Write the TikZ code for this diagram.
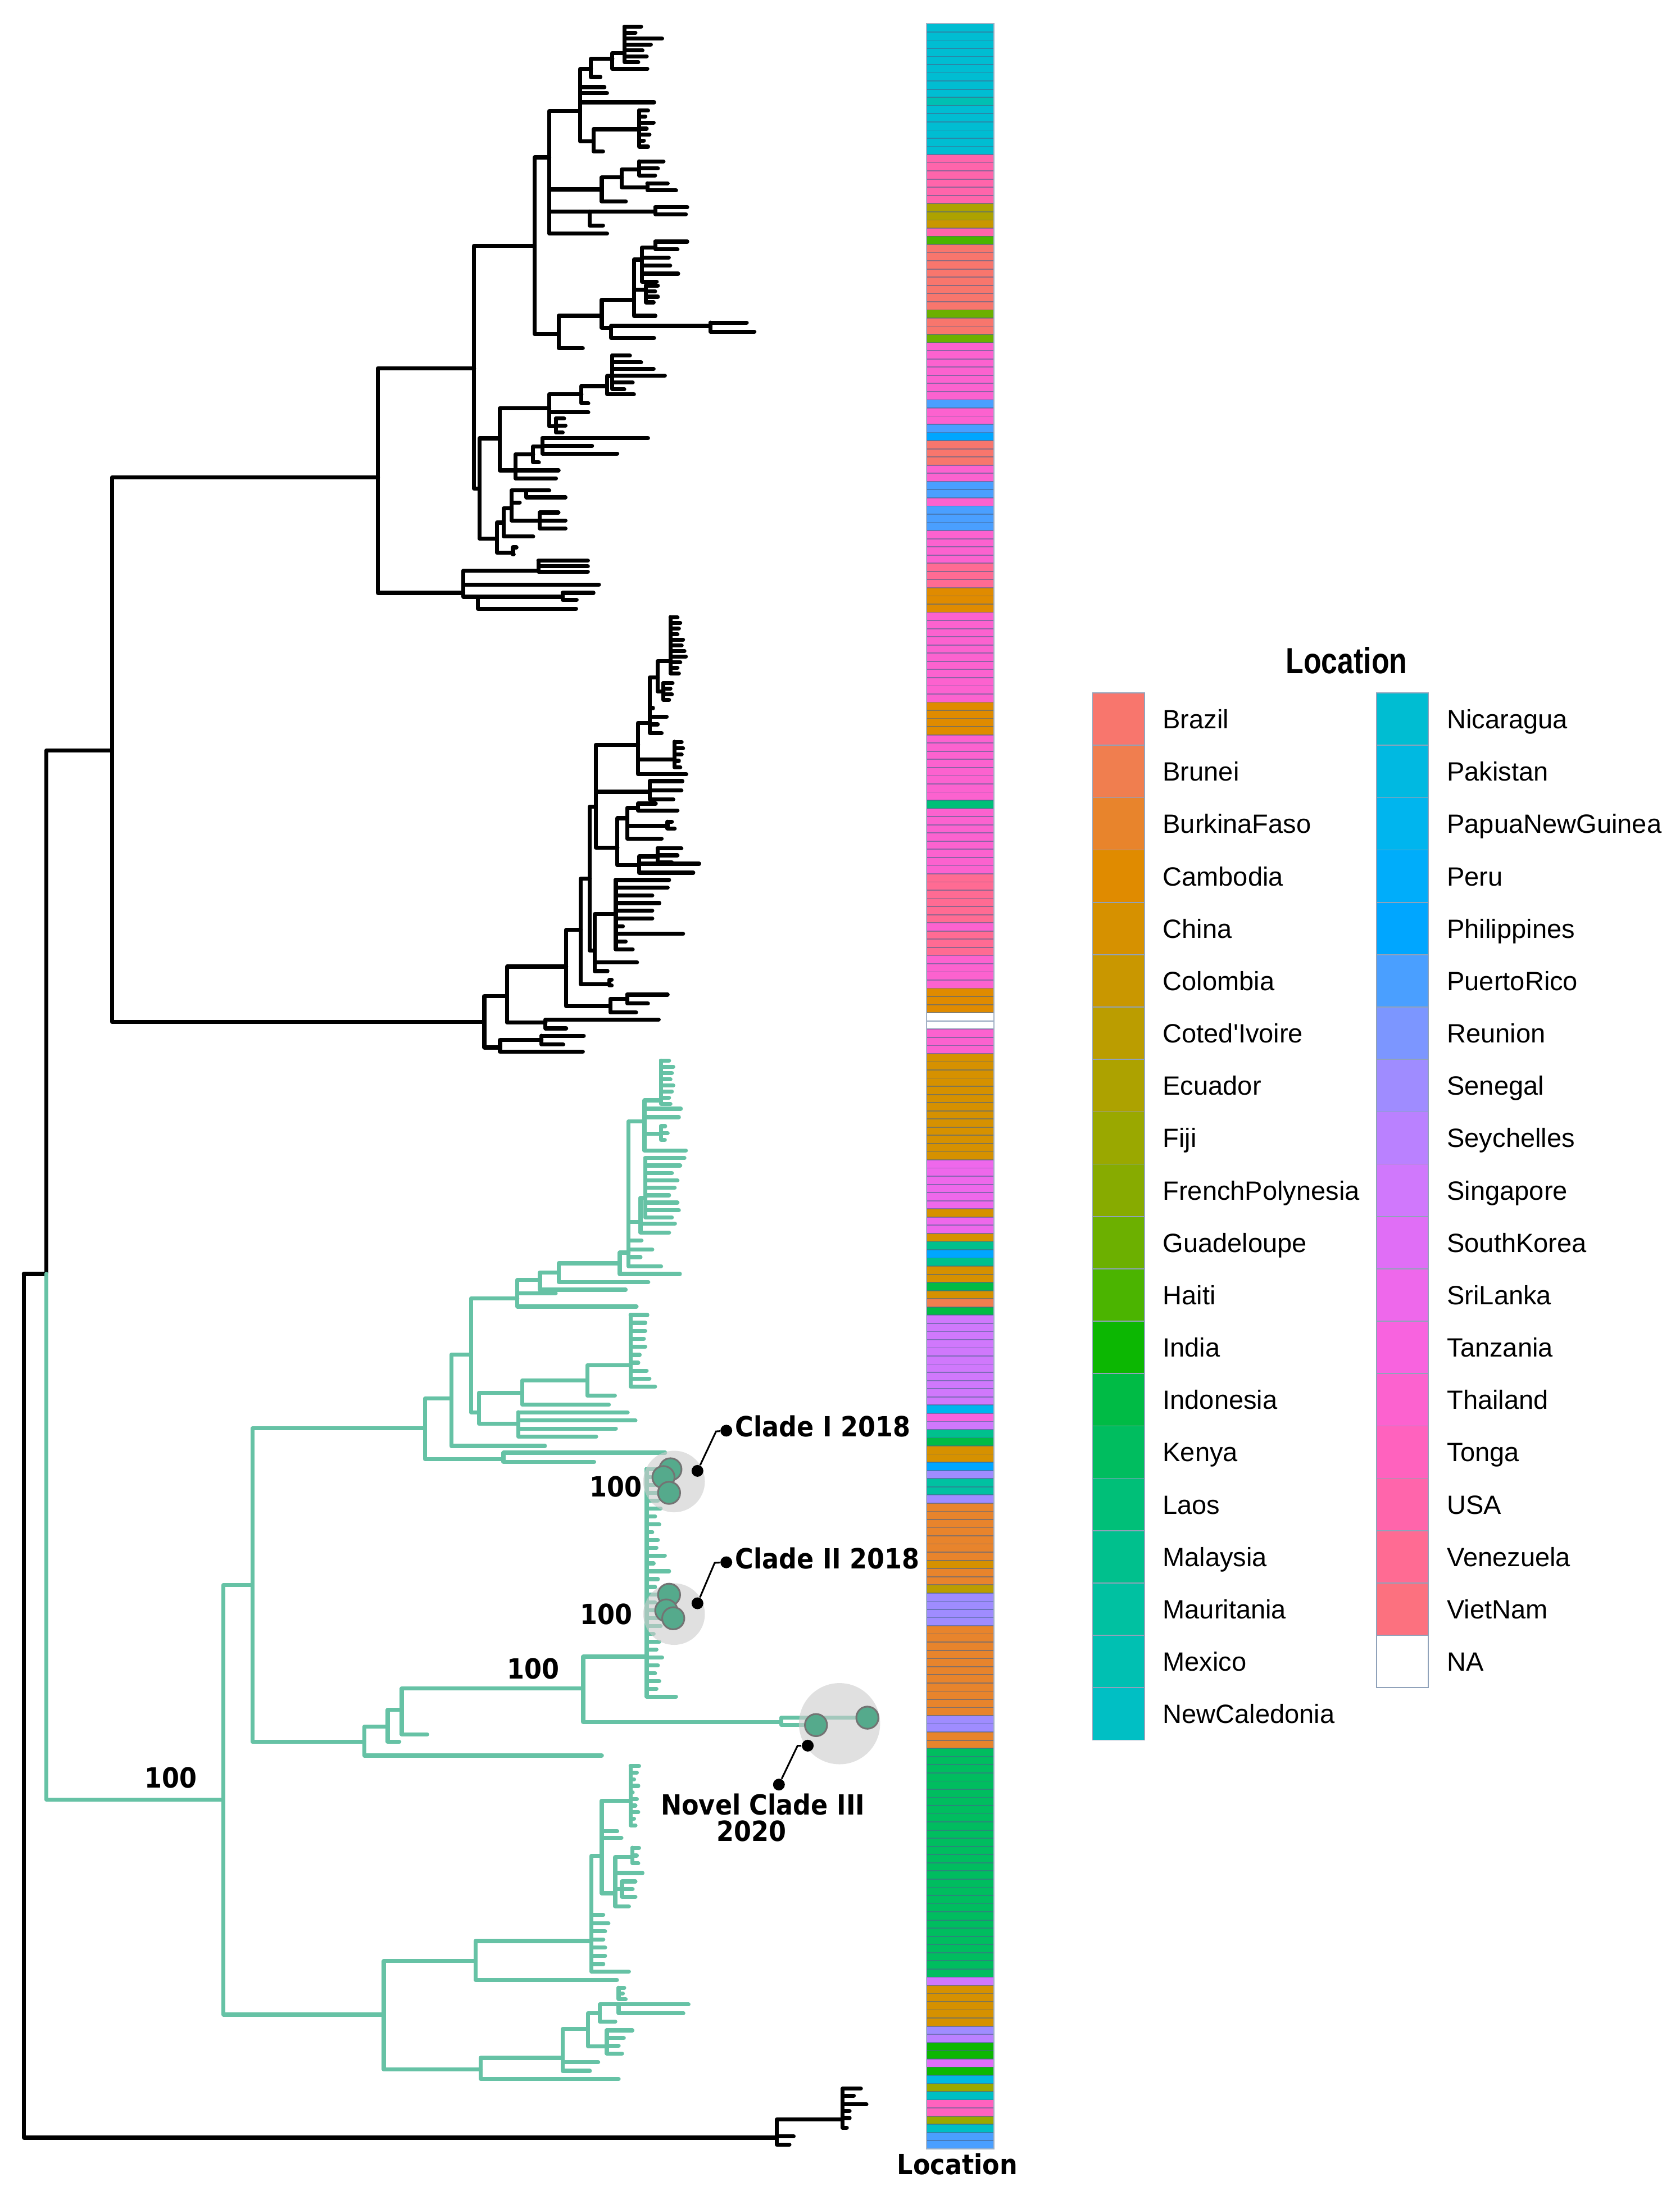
\documentclass[tikz,border=0pt]{standalone}
\usepackage{fontspec}
\usepackage{graphicx}
\newfontfamily\legfont{Liberation Sans}
\newfontfamily\labfont{DejaVu Sans}

\definecolor{cladegreen}{HTML}{66C2A5}
\definecolor{tipgreen}{HTML}{55AA8C}
\definecolor{rowline}{HTML}{46648C}
\definecolor{kbra}{HTML}{F8766D}
\definecolor{kbru}{HTML}{F07E4F}
\definecolor{kbfa}{HTML}{E8842C}
\definecolor{kcam}{HTML}{E08B00}
\definecolor{kchi}{HTML}{D69100}
\definecolor{kcol}{HTML}{C99700}
\definecolor{kciv}{HTML}{BB9D00}
\definecolor{kecu}{HTML}{ADA200}
\definecolor{kfij}{HTML}{9AA800}
\definecolor{kfrp}{HTML}{87AB00}
\definecolor{kgua}{HTML}{6CB000}
\definecolor{khai}{HTML}{4BB400}
\definecolor{kind}{HTML}{0CB702}
\definecolor{kidn}{HTML}{00BB45}
\definecolor{kken}{HTML}{00BD5F}
\definecolor{klao}{HTML}{00BF78}
\definecolor{kmal}{HTML}{00C08D}
\definecolor{kmau}{HTML}{00C1A1}
\definecolor{kmex}{HTML}{00C0B2}
\definecolor{knca}{HTML}{00BFC4}
\definecolor{knic}{HTML}{00BDD2}
\definecolor{kpak}{HTML}{00B9E1}
\definecolor{kpng}{HTML}{00B5EE}
\definecolor{kper}{HTML}{00ADFA}
\definecolor{kphi}{HTML}{00A6FF}
\definecolor{kpr}{HTML}{4A9FFF}
\definecolor{kreu}{HTML}{7C96FF}
\definecolor{ksen}{HTML}{9F8CFF}
\definecolor{ksey}{HTML}{BA81FF}
\definecolor{ksin}{HTML}{D078FC}
\definecolor{ksko}{HTML}{E06EF6}
\definecolor{ksri}{HTML}{EE68EB}
\definecolor{ktan}{HTML}{F863DF}
\definecolor{ktha}{HTML}{FC62CF}
\definecolor{kton}{HTML}{FF62BE}
\definecolor{kusa}{HTML}{FF65AB}
\definecolor{kven}{HTML}{FF6B93}
\definecolor{kvnm}{HTML}{FC717F}
\definecolor{kna}{HTML}{FFFFFF}

\tikzset{
  branch/.style={line width=1.65pt, line cap=round, line join=round},
  halo/.style={fill=black!20, fill opacity=0.6},
  tip/.style={circle, fill=tipgreen, draw=black!55, line width=0.7pt, minimum size=9pt, inner sep=0pt},
  ptr/.style={circle, fill=black, inner sep=0pt, minimum size=4.8pt},
  clab/.style={font=\labfont\bfseries\fontsize{11.3}{12}\selectfont, inner sep=0pt},
  legtext/.style={anchor=base west, inner sep=0pt, font=\legfont\fontsize{10.75}{12}\selectfont},
  legbox/.style={draw=rowline!60, line width=0.4pt},
}

% parent (x,y) to every child x/y
\newcommand\kids[3]{\foreach \cx/\cy in {#3} {\draw (#1,#2) |- (\cx,\cy);}}
% evenly spaced tips: x, first y, step, list of tip ends
\newcommand\comb[4]{\foreach \e [count=\i from 0] in {#4} {\draw (#1,#2) |- (\e,{#2+\i*#3});}}

\begin{document}
\begin{tikzpicture}[x=0.02cm, y=-0.02cm]
\useasboundingbox (0,0) rectangle (1200,1568);

% black part of the tree
\begin{scope}[branch, black]
  \draw (17,910) -- (33,910);
  \draw (17,910) |- (555,1527);
  \kids{555}{1527}{567/1526, 564/1532, 602/1514}
  \kids{602}{1514}{615/1492, 610/1497, 619/1503, 607/1508, 607/1513, 605/1520}

  \draw (33,910) |- (80,536);
  \kids{80}{536}{270/341, 346/730}
  \kids{270}{341}{338.7/263, 331/423.5}
  \kids{338.7}{263}{382/175.5, 342.5/349}
  \kids{382}{175.5}{392.4/112.4, 399.1/238.5}
  \kids{392.4}{112.4}{414.5/79.4, 429.9/135.3, 421.2/151.1, 433.7/166.9}
  \kids{414.5}{79.4}{422.2/49.3, 431.8/62.2, 433.7/66.5, 467.3/73.1, 424.1/100.9}
  \kids{422.2}{49.3}{437.5/42.1, 428.9/55}
  \kids{437.5}{42.1}{446.2/37.8, 462.5/49.3}
  \comb{446.2}{19.2}{4.2}{458,454,473,465,459,462,456}
  \kids{424.1}{100.9}{456.7/92.3, 430.8/108.1}
  \comb{456.7}{79}{4.3}{463,461,467,462,464,460,463}
  \kids{429.9}{135.3}{444.3/126.7, 447.1/143.9}
  \kids{444.3}{126.7}{456.7/121, 462.5/133.9}
  \comb{456.7}{115.3}{5}{474,470,468}
  \comb{462.5}{131}{5}{477,483}
  \kids{421.2}{151.1}{468.2/151.1, 430.8/161.1}
  \comb{468.2}{148}{5}{491,490}
  \kids{399.1}{238.5}{429.9/225.6, 416.4/248.6}
  \kids{429.9}{225.6}{452.9/214.2, 436.6/234.2}
  \kids{436.6}{234.2}{507.6/232.8, 467.3/241.4}
  \comb{507.6}{230.5}{6.5}{533.5,539}
  \kids{452.9}{214.2}{458.6/185.5, 461.5/207, 468.2/225.6}
  \kids{458.6}{185.5}{468.2/176.9, 477.8/184.1, 478.8/189.8, 484.5/195.5, 469.2/201.3}
  \comb{468.2}{172.6}{5.4}{491,484}
  \comb{461.5}{204}{4}{470,468,470,467}
  \kids{342.5}{349}{357/313.1, 355/384.8}
  \kids{357}{313.1}{392.4/291.6, 368.4/336}
  \kids{392.4}{291.6}{415.4/281.5, 420.3/294.4, 397.2/304.5}
  \comb{397.2}{299}{5}{403,404,402}
  \kids{415.4}{281.5}{433.7/275.8, 420.3/288}
  \kids{433.7}{275.8}{437.5/268.6, 452.9/281.5}
  \comb{437.5}{254}{4.8}{450,458,467,475,452,446}
  \kids{368.4}{336}{380.9/324.5, 399.1/336, 397.2/341.7}
  \kids{380.9}{324.5}{387.6/318.8, 385/330.3}
  \comb{387.6}{313}{5.5}{463,423,441}
  \kids{355}{384.8}{359.8/373.3, 366.5/394.8}
  \comb{366.5}{391}{5}{369,367}
  \kids{359.8}{373.3}{365.5/363.2, 380.9/383.3}
  \kids{365.5}{363.2}{376/350.3, 371.3/359, 385.7/371.8}
  \comb{376}{350.3}{5}{392.4,404}
  \comb{385.7}{366.1}{5.7}{399,404,404}
  \kids{331}{423.5}{384.7/407.7, 427.9/417.7, 341.5/426.3}
  \comb{384.7}{400.5}{4}{420,420,420}
  \kids{341.5}{426.3}{402/426.3, 411.6/434.9}
  \comb{402}{423.5}{5}{424,412}

  \kids{346}{730}{362.2/711.5, 357.3/748.3}
  \kids{362.2}{711.5}{404.5/690.5, 389.7/730.4}
  \kids{389.7}{730.4}{470.6/728.3, 404.5/734.6}
  \kids{357.3}{748.3}{386.9/743, 416.4/751.4}
  \comb{386.9}{739.9}{6.3}{417.1,402.4}
  \kids{404.5}{690.5}{415/664.3, 436.1/718.9}
  \kids{436.1}{718.9}{448.1/713.6, 454.4/723.1}
  \comb{448.1}{710.5}{6.3}{477,462.9}
  \kids{415}{664.3}{421.4/627.6, 435.4/703.1}
  \comb{435.4}{700}{4}{437,437}
  \kids{421.4}{627.6}{425.6/576.1, 424.9/679}
  \kids{424.9}{679}{440/653, 455.1/687.4, 434/693.7}
  \comb{440}{628.6}{5.5}{478,477,466,471,466,466,445,488,447,452}
  \kids{425.6}{576.1}{455.9/532, 464.3/565.6, 441.1/605.5}
  \comb{464.3}{558}{6.5}{487.5,486.8,481}
  \kids{441.1}{605.5}{448.1/584.5, 456.5/618.1}
  \kids{448.1}{584.5}{455.9/577.2, 476.9/589.8, 472.7/599.2}
  \comb{455.9}{574}{5}{468.5,484}
  \comb{476.9}{587}{5}{480,482}
  \kids{456.5}{618.1}{469.9/611.8, 499.5/617, 495.3/623.4}
  \comb{469.9}{606}{5}{486.8,484,480}
  \kids{455.9}{532}{464.3/516.3, 481.9/542.6, 490.3/553.1}
  \comb{481.9}{530}{4.5}{487,488,487,485,486}
  \kids{464.3}{516.3}{469.9/483.8, 466.5/505.8, 476.3/512.1, 469.9/517.4, 472.7/523.7}
  \kids{469.9}{483.8}{479.1/472.2, 474/494}
  \comb{479.1}{441}{4}{484,486,485,484,488,487,489,490,486,484,485}
  \comb{474}{488}{4}{480.5,479,480,478}
\end{scope}

% green clade
\begin{scope}[branch, cladegreen]
  \draw (33,910) |- (159.5,1285.6);
  \kids{159.5}{1285.6}{180.4/1132.3, 274.2/1439.1}
  \kids{180.4}{1132.3}{303.6/1020.3, 260.3/1244.3}
  \kids{303.6}{1020.3}{322.4/999.1, 359.7/1042.4}
  \comb{359.7}{1037.7}{6.7}{475.2,424.5}
  \kids{322.4}{999.1}{336.5/967.6, 389.3/1032.9}
  \kids{336.5}{967.6}{369.6/927.4, 342.1/1008.9}
  \kids{342.1}{1008.9}{373.1/994.8, 370.3/1017}
  \comb{370.3}{1008.9}{5.8}{448.4,454,440,425.9}
  \kids{373.1}{994.8}{419.6/986.1, 435/1003.5}
  \kids{419.6}{986.1}{450.5/975.2, 439.3/997}
  \comb{450.5}{939.3}{5.7}{462.5,461,461,460,461,457,456,462,464,468}
  \kids{369.6}{927.4}{385.8/914.3, 397/923.8, 454.8/933.3}
  \kids{385.8}{914.3}{399.1/908.9, 447/921.3}
  \kids{399.1}{908.9}{442.8/902.4, 463.2/915.8}
  \kids{442.8}{902.4}{449.1/894.8, 485.7/910}
  \kids{449.1}{894.8}{460.4/801.2, 457.6/873, 458.3/886, 466/892.6, 457.6/898, 472.3/904.5}
  \kids{460.4}{801.2}{472.3/786, 472.3/809.9, 486.4/792, 485/798, 490/821.9}
  \comb{472.3}{757.7}{4.4}{478,481,480,479,481,480,478,479}
  \comb{472.3}{804.5}{4.9}{475.2,477,475}
  \kids{457.6}{873}{461.1/855.6, 482.2/874.1, 478/880.6}
  \comb{461.1}{827.3}{5.3}{489,486,480,484,482,478,484,485,480}

  \kids{260.3}{1244.3}{277/1233.4, 430/1254.1}
  \kids{277}{1233.4}{287/1221.5, 285.3/1244.3}
  \kids{287}{1221.5}{416.7/1206.2, 305.2/1238.9}
  \kids{416.7}{1206.2}{462/1183.4, 558.2/1230.2}
  \comb{462}{1049.6}{5.6}{479,474,468,478,470,472,468,471,466,470,469,475,467,478,470,468,478,468,476,481,472,467,471,469,473,470,468,471,469,483}
  \kids{558.2}{1230.2}{619.7/1227, 583/1232.3}

  \kids{274.2}{1439.1}{339.9/1400.9, 343.5/1478.3}
  \kids{339.9}{1400.9}{422.6/1386.5, 440.8/1414.3}
  \kids{422.6}{1386.5}{429.9/1325.6, 449.3/1408.5}
  \comb{422.6}{1367.9}{5.85}{431,434.7,432.3,431,432.3,432.3,431}
  \kids{429.9}{1325.6}{431.3/1286.4, 441/1308, 444/1313, 439.6/1352.4}
  \draw (431.3,1286.4) -- (450.5,1286.4);
  \comb{450.5}{1261.6}{4.7}{456.6,455,453,456,452,455,454,456,453,454}
  \kids{439.6}{1352.4}{451.8/1326.6, 459/1338, 444.4/1349.3, 449.3/1361.7}
  \comb{451.8}{1320}{5.5}{456.6,455,456}
  \comb{444.4}{1344}{5.5}{454,452,454}
  \kids{343.5}{1478.3}{401.9/1470, 442/1485.1}
  \kids{401.9}{1470}{420.1/1449.4, 427.4/1473.1, 421.4/1479.3}
  \kids{420.1}{1449.4}{428.6/1438, 433.5/1461.7}
  \kids{428.6}{1438}{442/1431.8, 439.6/1444.2}
  \kids{442}{1431.8}{491.9/1431.8, 488.2/1438}
  \comb{442}{1420}{4}{446,445,447}
  \comb{433.5}{1450.4}{5.5}{451.8,445.7,442,444.4}
\end{scope}

% highlighted clades
\fill[halo] (481.6,1058.3) circle (22);
\fill[halo] (481.6,1153) circle (22);
\fill[halo] (599.8,1231.3) circle (29);
\node[tip] (i1) at (479,1049.6) {};
\node[tip] (i2) at (474,1055.2) {};
\node[tip] (i3) at (478,1066.4) {};
\node[tip] (ii1) at (478,1139.2) {};
\node[tip] (ii2) at (476,1150.4) {};
\node[tip] (ii3) at (481,1156) {};
\node[tip] (iii1) at (583,1232.3) {};
\node[tip] (iii2) at (619.7,1227) {};

% pointers and labels
\node[ptr] (pI) at (498.3,1050.7) {};
\node[ptr] (qI) at (518.9,1022) {};
\coordinate (kI) at (511.6,1022.5);
\draw[line width=0.7pt] (pI) -- (kI) -- (qI);
\node[ptr] (pII) at (498.3,1145.3) {};
\node[ptr] (qII) at (518.9,1116) {};
\coordinate (kII) at (510.6,1116.4);
\draw[line width=0.7pt] (pII) -- (kII) -- (qII);
\node[ptr] (pIII) at (577.1,1247) {};
\node[ptr] (qIII) at (556.5,1274.8) {};
\coordinate (kIII) at (569.8,1247.1);
\draw[line width=0.7pt] (pIII) -- (kIII) -- (qIII);

\node[clab, anchor=west] (cI) at (525,1019) {\scalebox{0.9}[1]{Clade I 2018}};
\node[clab, anchor=west] (cII) at (525,1113) {\scalebox{0.9}[1]{Clade II 2018}};
\node[clab] (cIII) at (545,1289) {\scalebox{0.9}[1]{Novel Clade III}};
\node[clab] (cIIIy) at (537,1308) {\scalebox{0.9}[1]{2020}};
\node[clab] (bI) at (440,1062) {\scalebox{0.9}[1]{100}};
\node[clab] (bII) at (433,1153) {\scalebox{0.9}[1]{100}};
\node[clab] (bM) at (381,1192) {\scalebox{0.9}[1]{100}};
\node[clab] (bG) at (122,1270) {\scalebox{0.9}[1]{100}};

% location bar
\foreach \c/\n [remember=\e as \s (initially 0), evaluate=\n as \e using \s+\n] in {knic/9, kmex/1, knic/6, kusa/6, kecu/2, kcol/1, kusa/1, khai/1, kbra/8, kgua/1, kbra/2, kgua/1, ktha/7, kpr/1, ktha/2, kpr/1, kphi/1, kbra/3, ktha/2, kpr/2, ktha/1, kpr/3, ktha/4, kven/3, kcam/3, ktha/11, kcam/4, ktha/8, klao/1, ktha/8, kven/6, ktha/1, kven/3, ktha/4, kcam/3, kna/2, ktha/3, kchi/13, ksri/6, kchi/1, ksri/2, kchi/1, kmal/1, kphi/1, kmal/1, kchi/2, kidn/1, kchi/1, kbru/1, kidn/1, ksin/11, kpng/1, ktan/1, ksin/1, kmal/1, kidn/1, kchi/2, kphi/1, ksen/1, kmau/2, ksen/1, kbfa/7, kchi/1, kbfa/2, kciv/1, ksen/4, kbfa/11, ksen/2, kbfa/2, kken/28, ksin/1, kchi/5, ksen/1, ksey/1, kind/2, ksko/1, kind/1, kpak/1, kfij/1, knca/1, kton/2, kfij/1, knca/1, kpr/2}
  \fill[fill=\c] (662,{17+\s*5.8385}) rectangle (710,{17+\e*5.8385});
\foreach \r in {1,...,259}
  \draw[rowline, opacity=0.6, line width=0.4pt] (662,{17+\r*5.8385}) -- (710,{17+\r*5.8385});
\draw[draw=rowline!50, line width=0.5pt] (662,17) rectangle (710,1535);
\node[clab] (barname) at (684,1546) {\scalebox{0.9}[1]{Location}};

% legend
\node[font=\legfont\bfseries\fontsize{14.8}{16}\selectfont, inner sep=0pt] (ttl) at (962,472) {\scalebox{0.8}[1]{Location}};
\foreach \c/\t [count=\i from 0] in {kbra/Brazil, kbru/Brunei, kbfa/BurkinaFaso, kcam/Cambodia, kchi/China, kcol/Colombia, kciv/Coted'Ivoire, kecu/Ecuador, kfij/Fiji, kfrp/FrenchPolynesia, kgua/Guadeloupe, khai/Haiti, kind/India, kidn/Indonesia, kken/Kenya, klao/Laos, kmal/Malaysia, kmau/Mauritania, kmex/Mexico, knca/NewCaledonia} {
  \draw[legbox, fill=\c] (780.6,{495+\i*37.4}) rectangle (817.6,{495+(\i+1)*37.4});
  \node[legtext] (L\i) at (830.4,{495+(\i+0.5)*37.4+6.8}) {\t};
}
\foreach \c/\t [count=\i from 0] in {knic/Nicaragua, kpak/Pakistan, kpng/PapuaNewGuinea, kper/Peru, kphi/Philippines, kpr/PuertoRico, kreu/Reunion, ksen/Senegal, ksey/Seychelles, ksin/Singapore, ksko/SouthKorea, ksri/SriLanka, ktan/Tanzania, ktha/Thailand, kton/Tonga, kusa/USA, kven/Venezuela, kvnm/VietNam, kna/NA} {
  \draw[legbox, fill=\c] (983.5,{495+\i*37.4}) rectangle (1020.3,{495+(\i+1)*37.4});
  \node[legtext] (R\i) at (1033.5,{495+(\i+0.5)*37.4+6.8}) {\t};
}
\end{tikzpicture}
\end{document}
